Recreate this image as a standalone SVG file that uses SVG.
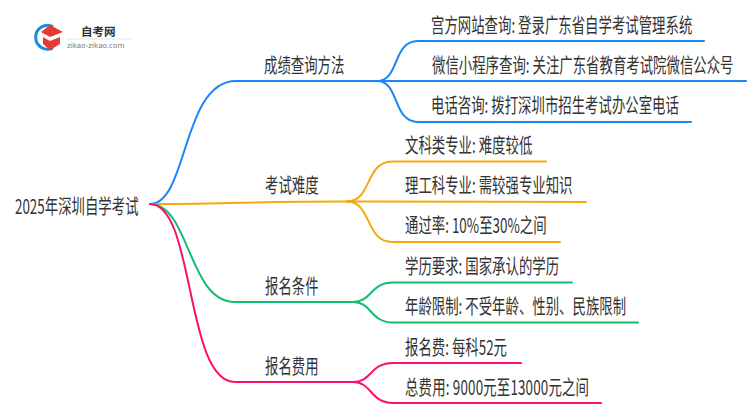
<svg xmlns="http://www.w3.org/2000/svg" width="750" height="410" viewBox="0 0 750 410">
<style>
text{font-family:"Noto Sans CJK SC","Liberation Sans",sans-serif;font-size:13.4px;fill:#333}
.c{fill:none;stroke-width:2;stroke-linecap:round}
.b{stroke:#1a86f5}.o{stroke:#f5a90f}.g{stroke:#12bd70}.p{stroke:#fb0f6e}
</style>
<rect width="750" height="410" fill="#fff"/>
<g id="connectors">
<path class="c b" d="M150 204C188 204 182 81 236 81L377 81"/>
<path class="c b" d="M377 81C400 81 392 41 418 41L704 41"/>
<path class="c b" d="M377 81L746 81"/>
<path class="c b" d="M377 81C400 81 392 122 418 122L691 122"/>
<path class="c o" d="M150 204C220 204 250 201.500 347 201.500"/>
<path class="c o" d="M347 201.500C372 201.500 365 161.500 392 161.500L546 161.500"/>
<path class="c o" d="M347 201.500L586 202"/>
<path class="c o" d="M347 201.500C372 201.500 365 242 392 242L560 242"/>
<path class="c g" d="M150 204C190 204 188 302 235 302L353 302"/>
<path class="c g" d="M353 302C372 302 370 282.500 393 282.500L572 282.500"/>
<path class="c g" d="M353 302C372 302 370 322.500 393 322.500L638 322.500"/>
<path class="c p" d="M150 204C195 204 185 382 235 382L353 382"/>
<path class="c p" d="M353 382C372 382 370 363 393 363L521 363"/>
<path class="c p" d="M353 382C372 382 370 403 393 403L601 403"/>
</g>
<g id="logo">
<path d="M53 26.500A12 12 0 1 0 53 48" fill="none" stroke="#1a8fe0" stroke-width="3"/>
<path d="M41 32L50 25L63 32L50 37Z" fill="#e53a35"/>
<path d="M43 37L50 41L60 37V44L50 50L43 44Z" fill="#e53a35"/>
<text x="81" y="35.500" style="font-size:11.500px;font-weight:700">自考网</text>
<path d="M66 39H131" stroke="#e5e5e5" fill="none"/>
<text x="67" y="47.500" style="font-family:'DejaVu Sans',sans-serif;font-size:7.200px;fill:#777">zikao-zikao.com</text>
</g>
<g id="root"><text transform="translate(15 214) scale(1 1.5)">2025年深圳自学考试</text></g>
<g id="n1"><text transform="translate(264 73) scale(1 1.5)">成绩查询方法</text></g>
<g id="n1a"><text transform="translate(431 33) scale(1 1.5)">宫方网站查询: 登录广东省自学考试管理系统</text></g>
<g id="n1b"><text transform="translate(432 73) scale(1 1.5)">微信小程序查询: 关注广东省教育考试院微信公众号</text></g>
<g id="n1c"><text transform="translate(431 113) scale(1 1.5)">电话咨询: 拨打深圳市招生考试办公室电话</text></g>
<g id="n2"><text transform="translate(265 193) scale(1 1.5)">考试难度</text></g>
<g id="n2a"><text transform="translate(405 153) scale(1 1.5)">文科类专业: 难度较低</text></g>
<g id="n2b"><text transform="translate(405 193) scale(1 1.5)">理工科专业: 需较强专业知识</text></g>
<g id="n2c"><text transform="translate(405 233) scale(1 1.5)">通过率: 10%至30%之间</text></g>
<g id="n3"><text transform="translate(265 294) scale(1 1.5)">报名条件</text></g>
<g id="n3a"><text transform="translate(405 274) scale(1 1.5)">学历要求: 国家承认的学历</text></g>
<g id="n3b"><text transform="translate(405 314) scale(1 1.5)">年龄限制: 不受年龄、性别、民族限制</text></g>
<g id="n4"><text transform="translate(265 374) scale(1 1.5)">报名费用</text></g>
<g id="n4a"><text transform="translate(405 355) scale(1 1.5)">报名费: 每科52元</text></g>
<g id="n4b"><text transform="translate(405 395) scale(1 1.5)" textLength="184">总费用: 9000元至13000元之间</text></g>
</svg>
